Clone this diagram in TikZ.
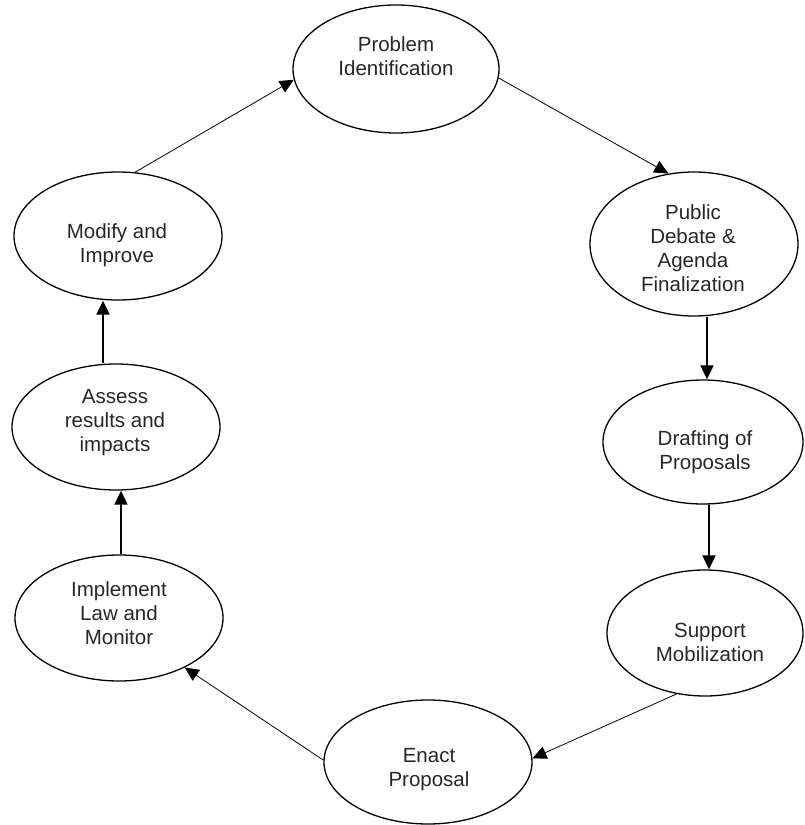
\documentclass[tikz,border=0pt]{standalone}
\usepackage{fontspec}
\setmainfont{Liberation Sans}
\usetikzlibrary{shapes.geometric,arrows.meta,calc}
\begin{document}
\begin{tikzpicture}[x=1pt,y=-1pt,
  stage/.style={draw=black, line width=1.3pt, ellipse, inner sep=0pt},
  lbl/.style={align=center, font=\fontsize{20.5}{24}\selectfont, text=black!85, inner sep=0pt},
  thinarrow/.style={draw=black, line width=0.8pt, -{Triangle[length=14pt,width=13pt]}},
  thickarrow/.style={draw=black, line width=2pt, -{Triangle[length=14pt,width=13pt]}}]
\useasboundingbox (0,0) rectangle (804,825);
% ellipses
\node[stage, minimum width=206pt, minimum height=128pt] (P)  at (396,69)  {};
\node[stage, minimum width=208pt, minimum height=144pt] (Pub) at (694,244) {};
\node[stage, minimum width=200pt, minimum height=124pt] (Dr) at (703,442) {};
\node[stage, minimum width=196pt, minimum height=126pt] (S)  at (705,633) {};
\node[stage, minimum width=208pt, minimum height=124pt] (E)  at (428,762) {};
\node[stage, minimum width=208pt, minimum height=126pt] (I)  at (119,618) {};
\node[stage, minimum width=208pt, minimum height=126pt] (A)  at (116,427) {};
\node[stage, minimum width=208pt, minimum height=128pt] (M)  at (118,236) {};
% labels
\node[lbl] (tP)   at (396,56)  {Problem\\Identification};
\node[lbl] (tPub) at (693,248) {Public\\Debate \&\\Agenda\\Finalization};
\node[lbl] (tDr)  at (705,452) {Drafting of\\Proposals};
\node[lbl] (tS)   at (710,642) {Support\\Mobilization};
\node[lbl] (tE)   at (429,770) {Enact\\Proposal};
\node[lbl] (tI)   at (119,613) {Implement\\Law and\\Monitor};
\node[lbl] (tA)   at (115,423) {Assess\\results and\\impacts};
\node[lbl] (tM)   at (117,245) {Modify and\\Improve};
% connectors
\draw[thinarrow] (P.-5) -- (Pub.110);
\draw[thickarrow] ([xshift=4pt]Dr.north |- Pub.south) -- ([xshift=4pt]Dr.north);
\draw[thickarrow] ([xshift=4pt]S.north |- Dr.south) -- ([xshift=4pt]S.north);
\draw[thinarrow] (S.-115) -- (E.2);
\draw[thinarrow] (E.179) -- (I.-37);
\draw[thickarrow] ([xshift=2pt]I.north) -- ([xshift=2pt]I.north |- A.south);
\draw[thickarrow] ([xshift=-13pt]A.north) -- ([xshift=-13pt]A.north |- M.south);
\draw[thinarrow] (M.75) -- (P.186);
\end{tikzpicture}
\end{document}
